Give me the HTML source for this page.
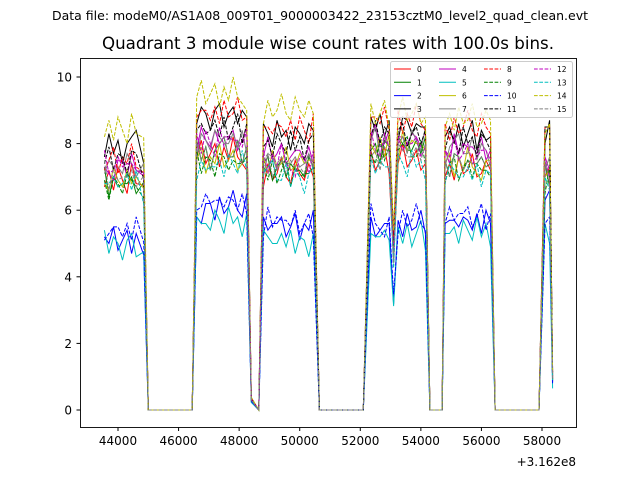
<!DOCTYPE html>
<html><head><meta charset="utf-8"><style>
body{margin:0;background:#fff}
svg text{font-family:"DejaVu Sans","Liberation Sans",sans-serif}
</style></head><body>
<svg id="chart" width="640" height="480" xmlns="http://www.w3.org/2000/svg">
<rect width="640" height="480" fill="#fff"/>
<text x="320" y="20" font-size="12.4" text-anchor="middle" textLength="536" lengthAdjust="spacingAndGlyphs">Data file: modeM0/AS1A08_009T01_9000003422_23153cztM0_level2_quad_clean.evt</text>
<text x="328" y="49" font-size="16.5" text-anchor="middle" textLength="452" lengthAdjust="spacingAndGlyphs">Quadrant 3 module wise count rates with 100.0s bins.</text>
<g id="plot"></g>
<rect x="80.5" y="58.5" width="496" height="369" fill="none" stroke="#000" stroke-width="0.9"/>
<g id="ticks"></g>
<text x="576" y="466" font-size="12" text-anchor="end">+3.162e8</text>
<g id="legend"></g>
</svg>
<script>
const times=[43550,43700,43850,44000,44150,44300,44450,44600,44850,45000,46450,46600,46750,46900,47050,47200,47350,47500,47650,47800,47950,48100,48250,48400,48650,48800,48950,49100,49250,49400,49550,49700,49850,50000,50150,50300,50450,50650,52100,52350,52500,52650,52800,52950,53100,53250,53400,53550,53700,53850,54000,54150,54300,54700,54800,54950,55100,55250,55400,55550,55700,55850,56000,56150,56300,56450,57900,58100,58250,58350];
const envelope=[1,1,1,1,1,1,1,1,0.95,0,0,1,1,1,1,1,1,1,1,1,1,1,1,0.04,0,1,1,1,1,1,1,1,1,1,1,1,1,0,0,1,1,1,1,1,0.6,1,1,1,1,1,1,1,0,0,1,1,1,1,1,1,1,1,1,1,1,0,0,1,1,0.13];
const wiggle=[0.3,-0.2,0.4,-0.3,0.1,0.5,-0.4,0.2,-0.1,0,0,0.2,-0.3,0.4,0.1,-0.2,0.5,-0.1,0.3,-0.4,0.2,0.4,0.6,0,0,0.5,-0.2,0.3,0.1,-0.4,0.2,0.4,-0.3,0.1,0.3,-0.2,0.2,0,0,-0.2,0.4,0.1,-0.3,0.5,0,0.2,-0.4,0.3,0.1,-0.2,0.4,0.2,0,0,0.3,-0.1,0.4,-0.3,0.2,0.1,-0.4,0.3,0.2,-0.2,0.1,0,0,0.2,-0.1,0];
const segStarts=[0,46500,48700,52000,54600,57800];
const levels=[
[7.0,7.8,7.2,7.6,7.3,7.2],[6.8,7.6,7.2,7.8,7.4,7.0],[5.2,6.2,5.6,5.6,5.7,6.5],[7.8,8.8,8.2,8.5,8.2,8.3],
[7.5,8.2,7.8,8.2,7.9,7.5],[4.9,5.6,5.0,5.2,5.3,5.0],[7.0,7.6,7.5,8.0,7.5,7.3],[7.3,8.0,7.4,8.0,7.7,7.5],
[7.6,9.0,8.5,8.8,8.6,8.5],[6.7,7.4,7.1,7.6,7.2,6.8],[5.5,6.3,5.7,5.8,5.9,5.9],[7.5,8.4,7.9,8.2,8.0,8.5],
[7.4,8.1,7.6,8.0,7.8,7.2],[6.8,7.3,6.9,7.3,7.0,6.8],[8.5,9.6,9.1,9.0,8.8,8.5],[7.0,7.6,7.3,7.6,7.4,7.1]];
const seriesLabels=["0","1","2","3","4","5","6","7","8","9","10","11","12","13","14","15"];
const colors=["#ff0000","#008000","#0000ff","#000000","#bf00bf","#00bfbf","#bfbf00","#808080"];
const xTicks=[44000,46000,48000,50000,52000,54000,56000,58000];
const yTicks=[0,2,4,6,8,10];
const NS="http://www.w3.org/2000/svg";
const X=t=>118+(t-44000)*0.030286;
const Y=v=>410-v*33.3;
function mk(tag,attrs,parent){const e=document.createElementNS(NS,tag);for(const k in attrs)e.setAttribute(k,attrs[k]);parent.appendChild(e);return e;}
const plot=document.getElementById('plot');
for(let k=0;k<16;k++){
  let pts=times.map((t,j)=>{let s=0;for(let q=0;q<segStarts.length;q++)if(t>=segStarts[q])s=q;
    const w=wiggle[(j+k*5)%wiggle.length]*(k%2?1:-1);
    const v=envelope[j]*(levels[k][s]+w);return X(t).toFixed(1)+','+Y(v).toFixed(1);});
  const p=mk('polyline',{points:pts.join(' '),fill:'none',stroke:colors[k%8],'stroke-width':1},plot);
  if(k>=8)p.setAttribute('stroke-dasharray','3.7,1.6');
  
  
}
const tk=document.getElementById('ticks');
xTicks.forEach(t=>{const x=X(t);
  const l=mk('line',{x1:x,x2:x,y1:427.5,y2:431,stroke:'#000'},tk);
  
  const tx=mk('text',{x:x,y:445,'font-size':12,'text-anchor':'middle'},tk);tx.textContent=t;
  });
yTicks.forEach(v=>{const y=Y(v);
  const l=mk('line',{x1:76.5,x2:80.5,y1:y,y2:y,stroke:'#000'},tk);
  
  const tx=mk('text',{x:72,y:y+4.5,'font-size':12,'text-anchor':'end'},tk);tx.textContent=v;
  });
const lg=document.getElementById('legend');
const bg=mk('rect',{x:390.5,y:61.5,width:182,height:56,rx:2,fill:'#fff','fill-opacity':0.8,stroke:'#ccc'},lg);

const colX=[394,439,484,534];
for(let k=0;k<16;k++){const c=Math.floor(k/4),r=k%4;const x=colX[c],y=69+r*13.3;
  const l=mk('line',{x1:x,x2:x+17,y1:y,y2:y,stroke:colors[k%8],'stroke-width':1},lg);
  if(k>=8)l.setAttribute('stroke-dasharray','3.7,1.6');
  
  const t=mk('text',{x:x+23,y:y+3,'font-size':7.5},lg);t.textContent=seriesLabels[k];
  }
</script>
</body></html>
